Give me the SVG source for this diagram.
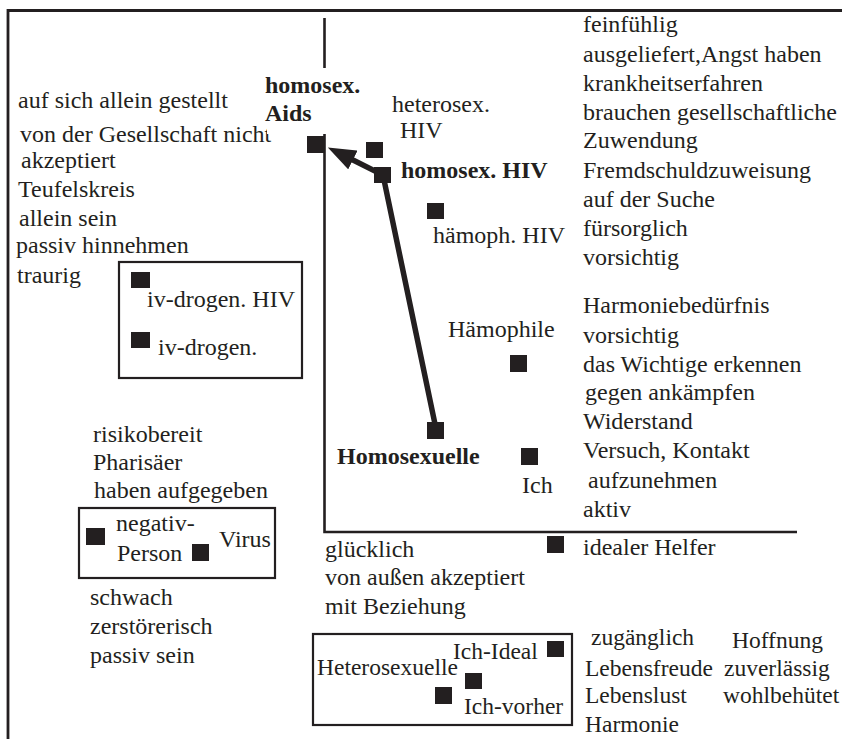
<svg xmlns="http://www.w3.org/2000/svg" width="842" height="739" viewBox="0 0 842 739">
  <style>
    text { font-family: "Liberation Serif", "Times New Roman", serif; font-size: 24px; fill: #231f20; }
    .b { font-weight: bold; }
    .s { font-size: 23.5px; }
    .pt { fill: #231f20; }
    .frame { fill: none; stroke: #231f20; stroke-width: 2.8; }
    .axis { fill: none; stroke: #231f20; stroke-width: 2.6; }
    .box { fill: none; stroke: #231f20; stroke-width: 2.2; }
    .conn { fill: none; stroke: #231f20; stroke-width: 5.5; stroke-linejoin: miter; }
  </style>
  <defs>
    <marker id="head" markerUnits="userSpaceOnUse" markerWidth="28" markerHeight="21" viewBox="0 0 28 21" refX="1" refY="10.5" orient="auto">
      <path d="M0,0 L28,10.5 L0,21 z" fill="#231f20"/>
    </marker>
  </defs>

  <rect width="842" height="739" fill="#ffffff"/>

  <!-- outer frame -->
  <path class="frame" d="M8,739 V10.5 H842"/>

  <!-- coordinate axes -->
  <g id="axes">
    <path class="axis" d="M324.5,18 V532 H797"/>
  </g>

  <!-- group frames -->
  <g id="frames">
    <rect class="box" x="119" y="262" width="183" height="116"/>
    <rect class="box" x="79" y="508" width="196" height="70"/>
    <rect class="box" x="313" y="634" width="259" height="91"/>
  </g>

  <!-- descriptive word lists -->
  <g id="list-left">
    <text x="18" y="108">auf sich allein gestellt</text>
    <text x="20" y="142">von der Gesellschaft nicht</text>
    <text x="21" y="168">akzeptiert</text>
    <text x="18" y="197">Teufelskreis</text>
    <text x="19" y="226">allein sein</text>
    <text x="16" y="253">passiv hinnehmen</text>
    <text x="17" y="283">traurig</text>
  </g>
  <g id="list-right-top">
    <text x="583" y="32">feinfühlig</text>
    <text x="583" y="62">ausgeliefert,Angst haben</text>
    <text x="583" y="91">krankheitserfahren</text>
    <text x="583" y="120">brauchen gesellschaftliche</text>
    <text x="583" y="148">Zuwendung</text>
    <text x="583" y="178">Fremdschuldzuweisung</text>
    <text x="583" y="207">auf der Suche</text>
    <text x="583" y="236">fürsorglich</text>
    <text x="583" y="265">vorsichtig</text>
  </g>
  <g id="list-right-mid">
    <text x="583" y="313">Harmoniebedürfnis</text>
    <text x="583" y="343">vorsichtig</text>
    <text x="583" y="372">das Wichtige erkennen</text>
    <text x="585" y="400">gegen ankämpfen</text>
    <text x="583" y="429">Widerstand</text>
    <text x="583" y="458">Versuch, Kontakt</text>
    <text x="588" y="488">aufzunehmen</text>
    <text x="583" y="517">aktiv</text>
  </g>
  <g id="list-neg">
    <text x="93" y="442">risikobereit</text>
    <text x="93" y="470">Pharisäer</text>
    <text x="94" y="498">haben aufgegeben</text>
    <text x="90" y="605">schwach</text>
    <text x="90" y="634">zerstörerisch</text>
    <text x="90" y="663">passiv sein</text>
  </g>
  <g id="list-bottom">
    <text x="325" y="557">glücklich</text>
    <text x="325" y="585">von außen akzeptiert</text>
    <text x="325" y="614">mit Beziehung</text>
    <text class="s" x="591" y="645">zugänglich</text>
    <text class="s" x="585" y="676">Lebensfreude</text>
    <text class="s" x="585" y="703">Lebenslust</text>
    <text class="s" x="585" y="732">Harmonie</text>
    <text class="s" x="732" y="648">Hoffnung</text>
    <text class="s" x="724" y="676">zuverlässig</text>
    <text class="s" x="723" y="703">wohlbehütet</text>
  </g>

  <!-- connectors -->
  <g id="connectors">
    <path class="conn" d="M435,424 L383,175 L352,159.5" marker-end="url(#head)"/>
  </g>

  <!-- nodes -->
  <g id="homosex-aids">
    <rect x="267" y="68" width="95" height="66" fill="#ffffff"/>
    <text class="b" x="265" y="93">homosex.</text>
    <text class="b" x="265" y="121">Aids</text>
    <rect class="pt" x="307" y="136" width="18" height="17"/>
  </g>
  <g id="heterosex-hiv">
    <text x="392" y="112">heterosex.</text>
    <text x="400" y="138">HIV</text>
    <rect class="pt" x="366" y="142" width="17" height="16"/>
  </g>
  <g id="homosex-hiv">
    <rect class="pt" x="374" y="167" width="17" height="16"/>
    <text class="b" x="401" y="178">homosex. HIV</text>
  </g>
  <g id="haemoph-hiv">
    <rect class="pt" x="427" y="203" width="17" height="16"/>
    <text x="433" y="243">hämoph. HIV</text>
  </g>
  <g id="iv-drogen-hiv">
    <rect class="pt" x="131" y="272" width="19" height="16"/>
    <text x="147" y="307">iv-drogen. HIV</text>
  </g>
  <g id="iv-drogen">
    <rect class="pt" x="131" y="332" width="19" height="16"/>
    <text x="158" y="355">iv-drogen.</text>
  </g>
  <g id="haemophile">
    <text x="448" y="337">Hämophile</text>
    <rect class="pt" x="510" y="355" width="17" height="17"/>
  </g>
  <g id="homosexuelle">
    <rect class="pt" x="427" y="422" width="17" height="17"/>
    <text class="b" x="337" y="464">Homosexuelle</text>
  </g>
  <g id="ich">
    <rect class="pt" x="521" y="448" width="17" height="17"/>
    <text x="522" y="493">Ich</text>
  </g>
  <g id="idealer-helfer">
    <rect class="pt" x="547" y="536" width="17" height="17"/>
    <text x="583" y="555">idealer Helfer</text>
  </g>
  <g id="negativ-person">
    <rect class="pt" x="86" y="528" width="19" height="17"/>
    <text x="116" y="531">negativ-</text>
    <text x="117" y="561">Person</text>
  </g>
  <g id="virus">
    <rect class="pt" x="192" y="544" width="17" height="17"/>
    <text x="219" y="547">Virus</text>
  </g>
  <g id="ich-ideal">
    <text class="s" x="453" y="659">Ich-Ideal</text>
    <rect class="pt" x="547" y="641" width="17" height="16"/>
  </g>
  <g id="ich-vorher">
    <rect class="pt" x="465" y="673" width="17" height="16"/>
    <text class="s" x="464" y="714">Ich-vorher</text>
  </g>
  <g id="heterosexuelle">
    <text class="s" x="317" y="675">Heterosexuelle</text>
    <rect class="pt" x="435" y="687" width="17" height="17"/>
  </g>
</svg>
